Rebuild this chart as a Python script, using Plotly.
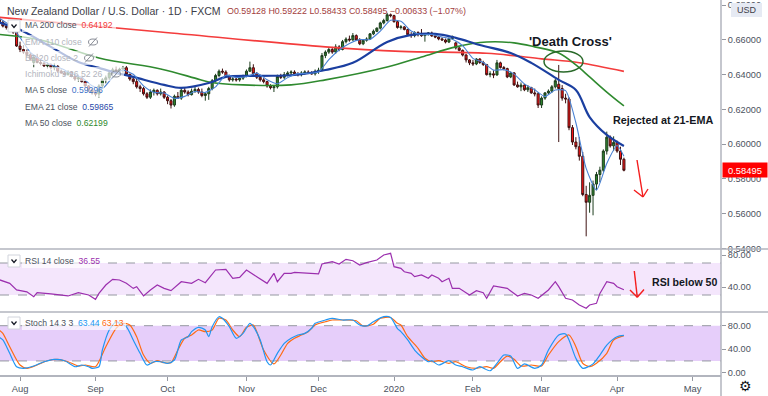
import pandas as pd
import plotly.graph_objects as go

FONT = "Liberation Sans, Arial, sans-serif"

# ---------------- data ----------------
dates = pd.bdate_range("2019-07-24", "2020-04-03")
OFF = 6  # bar index 0 == 2019-08-01

opens = [
    .6718, .6702, .6680, .6672, .6650, .6645, .6565, .6545, .6530, .6515,
    .6470, .6500, .6470, .6465, .6450, .6458, .6440, .6448, .6420, .6410,
    .6400, .6415, .6390, .6375, .6382, .6360, .6335, .6310, .6295, .6288,
    .6335, .6370, .6382, .6410, .6428, .6422, .6432, .6440, .6402, .6375,
    .6360, .6330, .6320, .6290, .6270, .6300, .6310, .6290, .6300, .6270,
    .6250, .6225, .6275, .6265, .6310, .6300, .6285, .6305, .6315, .6300,
    .6280, .6290, .6320, .6365, .6395, .6420, .6415, .6390, .6370, .6375,
    .6370, .6380, .6395, .6420, .6440, .6405, .6385, .6370, .6360, .6335,
    .6325, .6330, .6390, .6385, .6400, .6410, .6415, .6405, .6400, .6410,
    .6415, .6410, .6405, .6420, .6425, .6510, .6530, .6545, .6530, .6560,
    .6545, .6590, .6605, .6600, .6625, .6600, .6578, .6598, .6605, .6635,
    .6650, .6668, .6698, .6712, .6745, .6740, .6705, .6672, .6675, .6660,
    .6630, .6625, .6642, .6630, .6625, .6635, .6640, .6623, .6617, .6606,
    .6600, .6588, .6608, .6583, .6554, .6540, .6513, .6485, .6468, .6462,
    .6490, .6470, .6458, .6400, .6405, .6398, .6468, .6441, .6435, .6387,
    .6410, .6341, .6330, .6340, .6313, .6325, .6295, .6290, .6225, .6265,
    .6295, .6305, .6330, .6345, .6320, .6265, .6260, .6095, .6012, .5985,
    .5930, .5710, .5665, .5705, .5770, .5825, .5850, .5960, .6040, .5990,
    .6010, .5960, .59128,
]
highs = [
    .6732, .6712, .6692, .6678, .6665, .6652, .6590, .6570, .6545, .6530,
    .6515, .6520, .6485, .6475, .6470, .6465, .6465, .6455, .6430, .6420,
    .6425, .6420, .6400, .6395, .6388, .6370, .6340, .6320, .6305, .6345,
    .6380, .6395, .6420, .6440, .6445, .6440, .6450, .6450, .6405, .6385,
    .6375, .6342, .6330, .6300, .6315, .6320, .6315, .6320, .6305, .6280,
    .6260, .6285, .6300, .6320, .6325, .6310, .6320, .6330, .6325, .6320,
    .6295, .6330, .6375, .6405, .6430, .6435, .6425, .6400, .6385, .6385,
    .6390, .6400, .6430, .6475, .6460, .6415, .6400, .6380, .6365, .6345,
    .6340, .6400, .6405, .6415, .6420, .6425, .6425, .6415, .6420, .6425,
    .6425, .6420, .6430, .6440, .6525, .6540, .6560, .6560, .6575, .6570,
    .6600, .6615, .6625, .6640, .6632, .6610, .6605, .6615, .6640, .6660,
    .6672, .6705, .6722, .6756, .6752, .6745, .6710, .6685, .6680, .6665,
    .6645, .6650, .6650, .6663, .6640, .6645, .6648, .6630, .6622, .6615,
    .6608, .6615, .6625, .6590, .6560, .6545, .6520, .6490, .6485, .6495,
    .6495, .6480, .6462, .6420, .6425, .6485, .6475, .6450, .6440, .6418,
    .6415, .6360, .6355, .6345, .6340, .6330, .6320, .6300, .6275, .6300,
    .6315, .6340, .6375, .6456, .6340, .6290, .6270, .6110, .6040, .6040,
    .5955, .5760, .5780, .5790, .5840, .5870, .5970, .6072, .6050, .6045,
    .6020, .5985, .59222,
]
lows = [
    .6696, .6672, .6660, .6645, .6635, .6560, .6530, .6520, .6500, .6480,
    .6440, .6465, .6455, .6445, .6435, .6430, .6425, .6410, .6405, .6395,
    .6395, .6385, .6365, .6360, .6355, .6330, .6300, .6285, .6275, .6268,
    .6320, .6350, .6370, .6400, .6410, .6405, .6412, .6395, .6365, .6345,
    .6320, .6300, .6280, .6260, .6260, .6280, .6280, .6280, .6260, .6230,
    .6205, .6215, .6260, .6255, .6290, .6275, .6280, .6295, .6290, .6270,
    .6250, .6255, .6310, .6355, .6385, .6405, .6385, .6360, .6360, .6360,
    .6360, .6370, .6385, .6415, .6395, .6375, .6360, .6350, .6325, .6315,
    .6300, .6320, .6375, .6375, .6390, .6395, .6400, .6390, .6390, .6400,
    .6405, .6400, .6395, .6405, .6420, .6495, .6520, .6520, .6520, .6535,
    .6540, .6580, .6590, .6595, .6595, .6570, .6570, .6590, .6600, .6628,
    .6645, .6660, .6690, .6705, .6730, .6700, .6665, .6660, .6655, .6625,
    .6612, .6615, .6620, .6618, .6590, .6625, .6618, .6610, .6598, .6595,
    .6580, .6582, .6600, .6545, .6535, .6505, .6470, .6455, .6450, .6455,
    .6462, .6450, .6395, .6385, .6380, .6395, .6435, .6425, .6380, .6380,
    .6335, .6325, .6305, .6305, .6300, .6290, .6275, .6208, .6208, .6255,
    .6285, .6295, .6320, .6012, .6250, .6235, .6080, .5995, .5970, .5905,
    .5700, .5469, .5605, .5590, .5735, .5780, .5840, .5940, .5980, .5960,
    .5950, .5880, .58433,
]
closes = [
    .6702, .6680, .6672, .6650, .6645, .6565, .6545, .6530, .6515, .6490,
    .6500, .6470, .6465, .6450, .6458, .6440, .6448, .6420, .6410, .6400,
    .6415, .6390, .6375, .6382, .6360, .6335, .6310, .6295, .6288, .6335,
    .6370, .6382, .6410, .6428, .6422, .6432, .6440, .6402, .6375, .6360,
    .6330, .6320, .6290, .6270, .6300, .6310, .6290, .6300, .6270, .6250,
    .6225, .6275, .6265, .6310, .6300, .6285, .6305, .6315, .6300, .6280,
    .6290, .6320, .6365, .6395, .6420, .6415, .6390, .6370, .6375, .6370,
    .6380, .6395, .6420, .6440, .6405, .6385, .6370, .6360, .6335, .6325,
    .6330, .6390, .6385, .6400, .6410, .6415, .6405, .6400, .6410, .6415,
    .6410, .6405, .6420, .6425, .6510, .6530, .6545, .6530, .6560, .6545,
    .6590, .6605, .6600, .6625, .6600, .6578, .6598, .6605, .6635, .6650,
    .6668, .6698, .6712, .6745, .6740, .6705, .6672, .6675, .6660, .6630,
    .6625, .6642, .6630, .6625, .6635, .6640, .6623, .6617, .6606, .6600,
    .6588, .6608, .6620, .6554, .6540, .6513, .6485, .6468, .6462, .6490,
    .6470, .6458, .6400, .6405, .6398, .6468, .6441, .6435, .6387, .6410,
    .6341, .6330, .6340, .6313, .6325, .6295, .6290, .6225, .6265, .6295,
    .6305, .6330, .6365, .6320, .6265, .6260, .6095, .6012, .5985, .5930,
    .5710, .5665, .5705, .5770, .5825, .5850, .5960, .6040, .5990, .6010,
    .5960, .5913, .58495,
]

ma200_idx = [-6, 41, 89, 111, 136, 152, 163, 176]
ma200_val = [0.6730, 0.6646, 0.6560, 0.6534, 0.6523, 0.6491, 0.6469, 0.6419]

ma50_idx = [-6, 6, 23, 41, 51, 55, 65, 79, 89, 107, 117, 127, 136, 144, 150, 157, 162, 166, 171, 176]
ma50_val = [0.6632, 0.6600, 0.6496, 0.6433, 0.6380, 0.6358, 0.6341, 0.6341, 0.6370, 0.6444,
            0.6502, 0.6560, 0.6588, 0.6583, 0.6560, 0.6525, 0.6456, 0.6387, 0.6300, 0.6220]

ema21_idx = [-6, 0, 9, 17, 23, 27, 33, 42, 47, 55, 60, 70, 80, 89, 97, 107, 114, 121, 127,
             134, 143, 149, 157, 162, 166, 171, 176]
ema21_val = [0.6700, 0.6658, 0.6560, 0.6473, 0.6439, 0.6416, 0.6387, 0.6341, 0.6324, 0.6352,
             0.6387, 0.6393, 0.6398, 0.6427, 0.6468, 0.6588, 0.6629, 0.6635, 0.6612,
             0.6571, 0.6525, 0.6468, 0.6370, 0.6312, 0.6156, 0.6053, 0.5989]

ma5_idx = [-6, -3, 0, 3, 6, 9, 12, 15, 18, 21, 24, 27, 30, 33, 36, 39, 42, 45, 48, 51, 54,
           57, 60, 63, 66, 69, 72, 75, 78, 81, 84, 87, 90, 93, 96, 99, 102, 105, 108, 111,
           114, 117, 120, 123, 126, 129, 132, 135, 138, 141, 144, 147, 150, 153, 156, 159,
           162, 165, 168, 171, 174, 176]
ma5_val = [0.6725, 0.6685, 0.6615, 0.6529, 0.6488, 0.6457, 0.6435, 0.6407, 0.6384, 0.6336,
           0.6320, 0.6385, 0.6426, 0.6402, 0.6335, 0.6298, 0.6294, 0.6264, 0.6275, 0.6303,
           0.6298, 0.6330, 0.6397, 0.6384, 0.6388, 0.6409, 0.6371, 0.6348, 0.6383, 0.6406,
           0.6408, 0.6415, 0.6486, 0.6542, 0.6580, 0.6602, 0.6603, 0.6651, 0.6713, 0.6707,
           0.6652, 0.6630, 0.6631, 0.6617, 0.6604, 0.6567, 0.6494, 0.6470, 0.6426, 0.6429,
           0.6403, 0.6347, 0.6313, 0.6274, 0.6312, 0.6308, 0.6123, 0.5860, 0.5735, 0.5889,
           0.5992, 0.5930]

rsi_idx = [-6, -3, -1, 2, 4, 5, 9, 12, 14, 17, 20, 22, 23, 25, 27, 29, 31, 33, 34, 36, 38,
           40, 42, 44, 47, 50, 52, 54, 57, 60, 62, 64, 66, 69, 72, 74, 75, 77, 79, 80, 84,
           87, 88, 91, 93, 95, 97, 99, 101, 104, 106, 108, 109, 111, 112, 114, 115, 117,
           119, 120, 122, 123, 125, 126, 128, 131, 133, 135, 136, 138, 142, 145, 147, 149,
           151, 154, 156, 157, 159, 161, 163, 165, 166, 168, 169, 171, 173, 174, 176]
rsi_val = [49.0, 44.6, 36.3, 34.0, 27.9, 33.0, 31.3, 30.0, 28.8, 33.0, 30.0, 24.6, 32.0,
           42.5, 49.6, 48.8, 44.6, 38.3, 40.4, 28.8, 36.3, 42.5, 38.3, 35.4, 46.6, 44.6,
           49.6, 45.4, 61.3, 62.1, 50.9, 52.1, 61.3, 52.9, 44.6, 57.1, 46.6, 57.1, 57.1,
           58.3, 57.1, 56.3, 68.8, 71.6, 68.8, 74.6, 72.9, 67.5, 70.4, 73.8, 80.0, 82.1,
           65.4, 63.4, 59.1, 57.1, 52.9, 55.0, 50.9, 55.0, 50.9, 46.6, 50.9, 38.3, 38.3,
           30.0, 35.4, 32.9, 25.9, 41.3, 38.3, 28.8, 32.0, 30.0, 25.9, 36.3, 46.6, 40.4,
           25.9, 23.8, 17.5, 13.4, 17.5, 19.6, 32.0, 46.6, 44.6, 40.4, 36.55]

stk_idx = [-6, -5, -3, -1, 1, 4, 7, 10, 13, 16, 18, 20, 21, 23, 24, 26, 28, 29, 31, 33, 35,
           37, 39, 41, 43, 45, 47, 49, 50, 52, 54, 55, 56, 58, 59, 61, 63, 65, 67, 68, 70,
           72, 73, 75, 77, 79, 81, 83, 85, 86, 89, 91, 94, 97, 99, 101, 103, 106, 108, 110,
           111, 113, 115, 117, 119, 120, 122, 125, 127, 129, 132, 134, 137, 139, 141, 143,
           145, 147, 150, 152, 154, 157, 159, 160, 162, 164, 167, 169, 171, 174, 176]
stk_val = [60.0, 55.7, 33.0, 10.2, 7.5, 11.4, 18.7, 22.8, 20.4, 10.2, 13.1, 10.2, 7.5, 10.2,
           38.6, 72.7, 86.8, 84.0, 78.3, 55.7, 33.0, 13.1, 18.7, 18.7, 16.0, 21.6, 55.7,
           61.3, 69.8, 77.3, 72.7, 61.3, 78.3, 95.3, 92.6, 78.3, 58.6, 67.0, 84.0, 78.3,
           55.7, 18.7, 13.1, 33.0, 50.0, 58.6, 64.2, 67.0, 75.6, 84.0, 89.7, 92.6, 89.7,
           89.7, 81.2, 79.5, 86.8, 95.3, 94.0, 75.0, 70.0, 55.7, 38.6, 27.2, 18.7, 20.4,
           13.1, 20.4, 13.1, 10.2, 4.6, 10.2, 3.4, 16.0, 30.1, 28.3, 7.5, 15.0, 7.5, 13.1,
           38.6, 64.2, 66.0, 55.7, 24.5, 7.5, 15.0, 30.1, 47.1, 61.3, 63.44]

std_idx = [-6, -5, -3, 0, 2, 5, 8, 11, 14, 17, 19, 22, 25, 28, 30, 32, 34, 36, 38, 40, 42,
           44, 46, 48, 50, 52, 54, 56, 58, 60, 62, 64, 66, 68, 69, 71, 74, 76, 78, 80, 82,
           84, 86, 89, 91, 94, 98, 100, 103, 105, 108, 110, 111, 113, 116, 118, 120, 122,
           125, 127, 130, 133, 136, 138, 140, 142, 144, 146, 149, 152, 154, 157, 160, 162,
           164, 166, 168, 171, 173, 176]
std_val = [72.0, 67.0, 44.3, 13.1, 7.5, 13.1, 20.4, 22.8, 18.7, 11.4, 13.1, 10.2, 44.3,
           75.6, 84.0, 81.2, 61.3, 30.1, 16.0, 20.4, 17.0, 17.0, 38.6, 58.6, 64.2, 72.7,
           69.8, 72.7, 92.6, 89.7, 72.7, 61.3, 77.3, 81.2, 69.8, 38.6, 15.0, 30.1, 50.0,
           58.6, 64.2, 69.8, 81.2, 86.8, 89.7, 89.7, 88.4, 79.5, 82.6, 92.6, 94.0, 84.0,
           81.2, 61.3, 41.5, 24.5, 18.7, 20.4, 16.0, 18.7, 10.2, 7.5, 10.2, 7.5, 18.7,
           28.3, 22.8, 11.4, 13.1, 11.4, 30.1, 52.9, 64.2, 44.3, 16.0, 10.2, 16.0, 33.0,
           55.7, 63.13]

month_ticks = ["2019-08-01", "2019-09-02", "2019-10-01", "2019-11-01", "2019-12-02",
               "2020-01-01", "2020-02-03", "2020-03-02", "2020-04-01", "2020-05-01"]
month_labels = ["Aug", "Sep", "Oct", "Nov", "Dec", "2020", "Feb", "Mar", "Apr", "May"]

price_ticks = [0.54, 0.56, 0.58, 0.60, 0.62, 0.64, 0.66, 0.68]
osc_ticks_rsi = [40, 80]
osc_ticks_stoch = [0, 40, 80]

assert len(opens) == len(highs) == len(lows) == len(closes) == len(dates)


def at(idx):
    return [dates[i + OFF] for i in idx]


# ---------------- pixel helpers (plot area 721 x 375) ----------------
PW, PH = 721.0, 375.0


def px(x):
    return x / PW


def py(y):
    return (PH - y) / PH


fig = go.Figure()

fig.add_trace(go.Candlestick(
    x=dates, open=opens, high=highs, low=lows, close=closes,
    increasing=dict(line=dict(color="#1d3d1d", width=1), fillcolor="#2f862f"),
    decreasing=dict(line=dict(color="#3f1212", width=1), fillcolor="#fb1414"),
    whiskerwidth=0, xaxis="x", yaxis="y", showlegend=False, hoverinfo="skip"))

fig.add_trace(go.Scatter(x=at(ma200_idx), y=ma200_val, mode="lines",
                         line=dict(color="#f43c3c", width=1.6, shape="spline"),
                         xaxis="x", yaxis="y", showlegend=False))
fig.add_trace(go.Scatter(x=at(ma50_idx), y=ma50_val, mode="lines",
                         line=dict(color="#2f8a2f", width=1.6, shape="spline"),
                         xaxis="x", yaxis="y", showlegend=False))
fig.add_trace(go.Scatter(x=at(ema21_idx), y=ema21_val, mode="lines",
                         line=dict(color="#1b3fa0", width=2.2, shape="spline"),
                         xaxis="x", yaxis="y", showlegend=False))
fig.add_trace(go.Scatter(x=at(ma5_idx), y=ma5_val, mode="lines",
                         line=dict(color="#4a82d4", width=1.1, shape="spline", smoothing=0.6),
                         xaxis="x", yaxis="y", showlegend=False))

fig.add_trace(go.Scatter(x=at(rsi_idx), y=rsi_val, mode="lines",
                         line=dict(color="#9b2fae", width=1.2),
                         xaxis="x2", yaxis="y2", showlegend=False))

fig.add_trace(go.Scatter(x=at(std_idx), y=std_val, mode="lines",
                         line=dict(color="#ff6a13", width=1.2, shape="spline", smoothing=0.7),
                         xaxis="x3", yaxis="y3", showlegend=False))
fig.add_trace(go.Scatter(x=at(stk_idx), y=stk_val, mode="lines",
                         line=dict(color="#2196f3", width=1.2, shape="spline", smoothing=0.7),
                         xaxis="x3", yaxis="y3", showlegend=False))

XRANGE = ["2019-07-24 04:00", "2020-05-13 07:00"]
RB = [dict(bounds=["sat", "mon"])]
xcommon = dict(type="date", range=XRANGE, rangebreaks=RB, showgrid=False, zeroline=False,
               showticklabels=False, fixedrange=True)
ycommon = dict(side="right", showgrid=False, zeroline=False, ticks="outside", ticklen=4,
               tickcolor="#9598a1", tickfont=dict(size=9.2, color="#4c525e", family=FONT),
               showline=False, fixedrange=True)

fig.update_layout(
    width=768, height=396,
    margin=dict(l=0, r=47, t=0, b=21),
    paper_bgcolor="white", plot_bgcolor="white",
    font=dict(family=FONT),
    showlegend=False,
    boxgap=0.15,
    xaxis=dict(**xcommon, domain=[0, 1], anchor="y"),
    xaxis2=dict(**xcommon, domain=[0, 1], anchor="y2", matches="x"),
    xaxis3=dict(type="date", range=XRANGE, rangebreaks=RB, showgrid=False, zeroline=False,
                domain=[0, 1], anchor="y3", matches="x",
                tickmode="array", tickvals=month_ticks, ticktext=month_labels,
                ticks="outside", ticklen=4, tickcolor="#9598a1",
                showline=True, linecolor="#b2b5be", linewidth=1.5,
                tickfont=dict(size=9.4, color="#4c525e", family=FONT)),
    yaxis=dict(**ycommon, domain=[0.336, 1], anchor="x", range=[0.5396, 0.6830],
               tickmode="array", tickvals=price_ticks,
               ticktext=["%.5f" % v for v in price_ticks]),
    yaxis2=dict(**ycommon, domain=[0.168, 0.3333], anchor="x2", range=[8.75, 86.25],
                tickmode="array", tickvals=osc_ticks_rsi,
                ticktext=["%.2f" % v for v in osc_ticks_rsi]),
    yaxis3=dict(**ycommon, domain=[0, 0.1653], anchor="x3", range=[-3.9, 101.6],
                tickmode="array", tickvals=osc_ticks_stoch,
                ticktext=["%.2f" % v for v in osc_ticks_stoch]),
)
fig.update_xaxes(rangeslider_visible=False)

shapes = []
# oscillator bands
shapes.append(dict(type="rect", xref="paper", yref="y2", x0=0, x1=1, y0=30, y1=70,
                   fillcolor="#f4e6fc", line=dict(width=0), layer="below"))
shapes.append(dict(type="rect", xref="paper", yref="y3", x0=0, x1=1, y0=20, y1=80,
                   fillcolor="#e6cefa", line=dict(width=0), layer="below"))
for yr, v in [("y2", 70), ("y2", 30), ("y3", 80), ("y3", 20)]:
    shapes.append(dict(type="line", xref="paper", yref=yr, x0=0, x1=1, y0=v, y1=v,
                       line=dict(color="#9598a1", width=1, dash="dash"), layer="below"))
# pane separators and price-scale line
for yy in [249, 312]:
    shapes.append(dict(type="line", xref="paper", yref="paper", x0=0, x1=768 / PW,
                       y0=py(yy), y1=py(yy), line=dict(color="#b2b5be", width=1.6)))
shapes.append(dict(type="line", xref="paper", yref="paper", x0=1, x1=1, y0=py(396), y1=1,
                   line=dict(color="#b2b5be", width=1.5)))

# semi-transparent legend backgrounds
for (x1, yc) in [(116, 25), (100, 42), (96, 58), (124, 74), (104, 90), (114, 107), (112, 123),
                 (100, 261), (126, 323)]:
    shapes.append(dict(type="rect", xref="paper", yref="paper", x0=px(22), x1=px(x1),
                       y0=py(yc + 7), y1=py(yc - 7), fillcolor="rgba(255,255,255,0.68)",
                       line=dict(width=0), layer="above"))
# dropdown chevron boxes
for yc in [26, 261, 323]:
    shapes.append(dict(type="rect", xref="paper", yref="paper", x0=px(8), x1=px(20),
                       y0=py(yc + 6), y1=py(yc - 6), fillcolor="white",
                       line=dict(color="#d1d4dc", width=1), layer="above"))
    shapes.append(dict(type="path", xref="paper", yref="paper",
                       path="M %f %f L %f %f L %f %f" % (px(11.5), py(yc - 1.5), px(14), py(yc + 1.5),
                                                        px(16.5), py(yc - 1.5)),
                       line=dict(color="#131722", width=1.2), layer="above"))
# hidden-indicator (eye-slash) icons
for (xc, yc) in [(93, 42), (89, 58), (116, 74)]:
    shapes.append(dict(type="circle", xref="paper", yref="paper", x0=px(xc - 4.5), x1=px(xc + 4.5),
                       y0=py(yc + 3), y1=py(yc - 3), line=dict(color="#8a8e98", width=1),
                       layer="above"))
    shapes.append(dict(type="line", xref="paper", yref="paper", x0=px(xc - 4), x1=px(xc + 4),
                       y0=py(yc + 4.5), y1=py(yc - 4.5), line=dict(color="#8a8e98", width=1),
                       layer="above"))
# death-cross ellipse
shapes.append(dict(type="circle", xref="paper", yref="paper", x0=px(544), x1=px(583),
                   y0=py(72), y1=py(51), line=dict(color="#2a6a2a", width=1.5), layer="above"))
# red arrows
for (a, b) in [((637, 160), (643, 197)), ((634, 190), (643, 197)), ((648, 189), (643, 197)),
               ((634.3, 271), (637.3, 297.3)), ((630, 290), (637.3, 297.3)), ((644, 289.5), (637.3, 297.3))]:
    shapes.append(dict(type="line", xref="paper", yref="paper", x0=px(a[0]), y0=py(a[1]),
                       x1=px(b[0]), y1=py(b[1]), line=dict(color="#f41c1c", width=1.4),
                       layer="above"))
# USD badge
shapes.append(dict(type="rect", xref="paper", yref="paper", x0=px(731), x1=px(762),
                   y0=py(17), y1=py(3), fillcolor="#e6eaf3", line=dict(width=0), layer="above"))
fig.update_layout(shapes=shapes)

ann = []


def txt(x, y, s, size, color="#131722", anchor="left", **kw):
    ann.append(dict(xref="paper", yref="paper", x=px(x), y=py(y), text=s, showarrow=False,
                    xanchor=anchor, yanchor="middle",
                    font=dict(size=size, color=color, family=FONT), **kw))


GRAY = "#4c525e"
FADED = "#b2b5be"
txt(5, 11, "New Zealand Dollar / U.S. Dollar · 1D · FXCM", 10.5, "#3d4049")
txt(225, 11, "O0.59128 H0.59222 L0.58433 C0.58495 \u22120.00633 (\u22121.07%)", 8.9, "#a23d3d")

txt(23, 25, "MA 200 close  <span style='color:#f23a3a'>0.64192</span>", 8.6, GRAY)
txt(23, 42, "EMA 110 close", 8.6, FADED)
txt(23, 58, "BB 20 close 2", 8.6, FADED)
txt(23, 74, "Ichimoku 9 26 52 26", 8.6, FADED)
txt(23, 90, "MA 5 close  <span style='color:#3b6fc7'>0.59296</span>", 8.6, GRAY)
txt(23, 107, "EMA 21 close  <span style='color:#1f48a8'>0.59865</span>", 8.6, GRAY)
txt(23, 123, "MA 50 close  <span style='color:#2e8a2e'>0.62199</span>", 8.6, GRAY)

txt(23, 261, "RSI 14 close  <span style='color:#9b2fae'>36.55</span>", 8.6, GRAY)
txt(23, 323, "Stoch 14 3 3  <span style='color:#2196f3'>63.44</span> <span style='color:#ff6a13'>63.13</span>",
    8.6, GRAY)

txt(570, 42, "<b>'Death Cross'</b>", 13, "#131722", anchor="center")
txt(663, 120, "<b>Rejected at 21-EMA</b>", 10.8, "#131722", anchor="center")
txt(684, 282, "<b>RSI below 50</b>", 10.6, "#131722", anchor="center")

txt(746.5, 10, "USD", 9, "#3d4049", anchor="center")
txt(745, 386, "\u2699", 14, "#131722", anchor="center")

# last-price tag
ann.append(dict(xref="paper", yref="y", x=1.0, y=closes[-1], text="%.5f" % closes[-1],
                showarrow=False, xanchor="left", yanchor="middle", xshift=1,
                bgcolor="#ff0000", width=44, height=14, borderpad=0,
                font=dict(size=9.4, color="white", family=FONT)))

fig.update_layout(annotations=ann)

fig.write_html("out.html", config={"displayModeBar": False},
               post_script="document.body.style.margin='0';document.body.style.overflow='hidden';")
